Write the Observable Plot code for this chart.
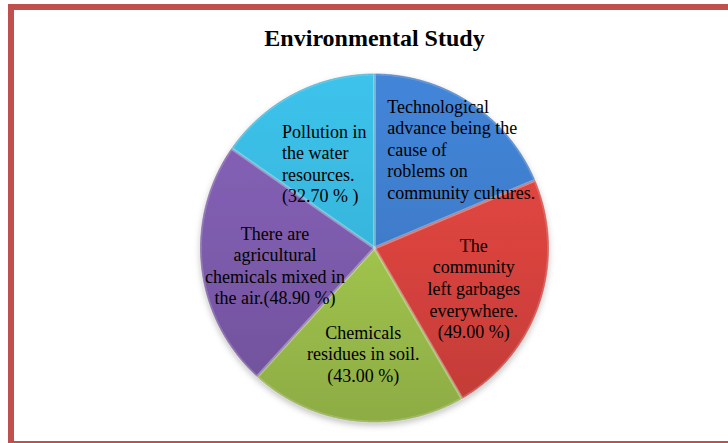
<!DOCTYPE html>
<html>
<head>
<meta charset="utf-8">
<script src="https://cdn.jsdelivr.net/npm/d3@7"></script>
<script src="https://cdn.jsdelivr.net/npm/@observablehq/plot@0.6"></script>
<style>
  html, body { margin: 0; padding: 0; background: #fff; }
  #wrap { position: relative; width: 728px; height: 443px; overflow: hidden; background: #fff; }
  #chart { position: absolute; left: 0; top: 0; }
  #frame { position: absolute; left: 8px; top: 4px; width: 800px; height: 443px;
           border: 6px solid #C0504D; box-sizing: border-box; pointer-events: none; }
</style>
</head>
<body>
<div id="wrap"><div id="chart"></div><div id="frame"></div></div>
<script>
// ---- data ----
const title = "Environmental Study";
const categories = [
  "Technological advance being the cause of roblems on community cultures.",
  "The community left garbages everywhere.",
  "Chemicals residues in soil.",
  "There are agricultural chemicals mixed in the air.",
  "Pollution in the water resources."
];
const labels = [
  "Technological\nadvance being the\ncause of\nroblems on\ncommunity cultures.",
  "The\ncommunity\nleft garbages\neverywhere.\n(49.00 %)",
  "Chemicals\nresidues in soil.\n(43.00 %)",
  "There are\nagricultural\nchemicals mixed in\nthe air.(48.90 %)",
  "Pollution in\nthe water\nresources.\n(32.70 % )"
];
const values = [39.8, 49.0, 43.0, 48.9, 32.7];
const colors = ["#3E7CCA", "#D9433E", "#A0C34D", "#7D5BAC", "#38B6DC"];

// ---- layout (label placement along the slice mid-angle) ----
const labelLayout = [
  {k: 0.683, anchor: "start", dx: -53, dy: 0},
  {k: 0.62, anchor: "middle", dx: -3, dy: 6},
  {k: 0.61, anchor: "middle", dx: 0, dy: 0},
  {k: 0.575, anchor: "middle", dx: 0, dy: 6},
  {k: 0.551, anchor: "start", dx: -48, dy: 0}
];

const cx = 374, cy = 247.5, R = 174;

const arcs = d3.pie().sort(null).value(d => d)(values);
const pts = [];
arcs.forEach((a, i) => {
  pts.push({i, x: 0, y: 0});
  const n = Math.max(2, Math.ceil((a.endAngle - a.startAngle) / 0.005));
  for (let k = 0; k <= n; k++) {
    const t = a.startAngle + (a.endAngle - a.startAngle) * k / n;
    pts.push({i, x: Math.sin(t), y: Math.cos(t)});
  }
  pts.push({i, x: 0, y: 0});
});

const labelData = arcs.map((a, i) => {
  const m = (a.startAngle + a.endAngle) / 2;
  const L = labelLayout[i];
  return {i, text: labels[i], x: Math.sin(m) * L.k, y: Math.cos(m) * L.k,
          anchor: L.anchor, dx: L.dx, dy: L.dy};
});

const textOpts = (anchor) => ({
  x: "x", y: "y", text: "text",
  textAnchor: anchor, lineAnchor: "middle",
  fontSize: 18, lineHeight: 1.2,
  fontFamily: "'Liberation Serif', 'Times New Roman', serif",
  fill: "#000"
});

const marks = [
  Plot.line(pts, {
    x: "x", y: "y", z: "i",
    fill: d => `url(#grad${d.i})`,
    stroke: d => d3.color(colors[d.i]).darker(0.6).formatHex(),
    strokeWidth: 1, strokeOpacity: 0.7, curve: "linear"
  }),
  Plot.line(pts, {
    x: "x", y: "y", z: "i",
    stroke: "#ffffff", strokeOpacity: 0.18, strokeWidth: 3, fill: "none", curve: "linear"
  })
];
labelData.forEach(d => {
  marks.push(Plot.text([d], {...textOpts(d.anchor), dx: d.dx, dy: d.dy}));
});
marks.push(Plot.text([title], {
  x: () => 0, frameAnchor: "top", dy: 38, text: d => d,
  textAnchor: "middle", lineAnchor: "middle",
  fontSize: 24, fontWeight: "bold",
  fontFamily: "'Liberation Serif', 'Times New Roman', serif", fill: "#000"
}));

const svg = Plot.plot({
  width: 728, height: 443,
  marginTop: 0, marginBottom: 0, marginLeft: 0, marginRight: 0,
  x: {domain: [-1, 1], range: [cx - R, cx + R], axis: null},
  y: {domain: [-1, 1], range: [cy + R, cy - R], axis: null},
  color: {type: "identity"},
  style: {background: "transparent"},
  marks
});

// gradients for a slightly shaded, bevelled look
let defs = `<defs>
<filter id="shadow" x="-10%" y="-10%" width="120%" height="125%">
  <feDropShadow dx="0" dy="3" stdDeviation="3" flood-color="#000" flood-opacity="0.25"/>
</filter>`;
colors.forEach((c, i) => {
  const top = d3.color(c).brighter(0.2).formatHex();
  const bot = d3.color(c).darker(0.35).formatHex();
  defs += `<linearGradient id="grad${i}" gradientUnits="userSpaceOnUse" x1="0" y1="${cy - R}" x2="0" y2="${cy + R}">
    <stop offset="0" stop-color="${top}"/><stop offset="0.5" stop-color="${c}"/><stop offset="1" stop-color="${bot}"/>
  </linearGradient>`;
});
defs += `</defs>`;
svg.insertAdjacentHTML("afterbegin", defs);
const firstG = svg.querySelector("g[aria-label='line']");
if (firstG) firstG.setAttribute("filter", "url(#shadow)");

document.getElementById("chart").appendChild(svg);
</script>
</body>
</html>
